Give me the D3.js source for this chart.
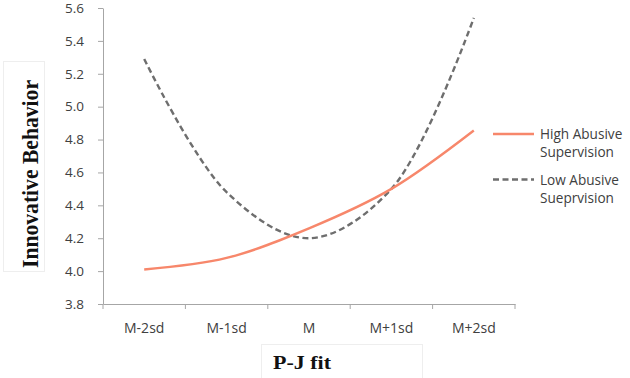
<!DOCTYPE html>
<html><head><meta charset="utf-8">
<script src="https://cdn.jsdelivr.net/npm/d3@7"></script>
<style>body{margin:0;background:#fff}svg{display:block}</style>
</head><body><svg id="c" width="630" height="378"></svg>
<script>
const categories = ["M-2sd","M-1sd","M","M+1sd","M+2sd"];
const highAbusive = [4.01, 4.08, 4.26, 4.50, 4.855];
const lowAbusive = [5.29, 4.48, 4.20, 4.50, 5.54];
const yTicks = [3.8,4.0,4.2,4.4,4.6,4.8,5.0,5.2,5.4,5.6];
const seriesNames = [["High Abusive","Supervision"],["Low Abusive","Sueprvision"]];

const svg = d3.select("#c");
const L=103, R=515, T=8, B=304;
const x = d3.scaleBand().domain(categories).range([L,R]);
const y = d3.scaleLinear().domain([3.8,5.6]).range([B,T]);
const font = "'Open Sans', 'Liberation Sans', sans-serif";
const serif = "'Liberation Serif', 'DejaVu Serif', serif";

// y axis
const ya = svg.append("g").attr("transform",`translate(${L},0)`)
  .call(d3.axisLeft(y).tickValues(yTicks).tickFormat(d3.format(".1f")).tickSize(5).tickSizeOuter(0));
ya.select(".domain").attr("stroke","#a6a6a6");
ya.selectAll(".tick line").attr("stroke","#a6a6a6");
ya.selectAll("text").attr("font-family",font).attr("font-size",13.5).attr("fill","#404040").attr("x",-19);

// x axis
const xa = svg.append("g").attr("transform",`translate(0,${B})`)
  .call(d3.axisBottom(x).tickSize(0).tickSizeOuter(0));
xa.select(".domain").attr("stroke","#a6a6a6");
xa.selectAll("text").attr("font-family",font).attr("font-size",14).attr("fill","#404040").attr("y",19).attr("dy","0.71em");
const bounds = categories.map(c=>x(c)).concat([R]);
xa.selectAll(".xt").data(bounds).enter().append("line").attr("class","xt")
  .attr("x1",d=>d).attr("x2",d=>d).attr("y1",0).attr("y2",5).attr("stroke","#a6a6a6");

const line = d3.line().x((d,i)=>x(categories[i])+x.bandwidth()/2).y(d=>y(d)).curve(d3.curveCatmullRom.alpha(0.5));
svg.append("path").datum(lowAbusive).attr("d",line).attr("fill","none")
  .attr("stroke","#6e6e6e").attr("stroke-width",2.4).attr("stroke-dasharray","6,3.5");
svg.append("path").datum(highAbusive).attr("d",line).attr("fill","none")
  .attr("stroke","#f7876b").attr("stroke-width",2.4);

// legend
const lg = svg.append("g");
const ly = [134,179.5];
lg.append("line").attr("x1",493).attr("x2",534).attr("y1",ly[0]).attr("y2",ly[0]).attr("stroke","#f7876b").attr("stroke-width",2.4);
lg.append("line").attr("x1",493).attr("x2",534).attr("y1",ly[1]).attr("y2",ly[1]).attr("stroke","#6e6e6e").attr("stroke-width",2.4).attr("stroke-dasharray","6,3.5");
seriesNames.forEach((n,i)=>{
  n.forEach((s,j)=>{
    lg.append("text").attr("x",540).attr("y",ly[i]+5+j*18).attr("font-family",font).attr("font-size",13.6)
      .attr("fill","#404040").text(s);
  });
});

// axis title boxes
svg.append("rect").attr("x",3.5).attr("y",61.5).attr("width",41).attr("height",210).attr("fill","#fff").attr("stroke","#eeeeee");
svg.append("text").attr("transform","translate(38,174) rotate(-90)").attr("text-anchor","middle")
  .attr("font-family",serif).attr("font-weight","bold").attr("font-size",23).attr("fill","#111")
  .attr("textLength",188).attr("lengthAdjust","spacingAndGlyphs").text("Innovative Behavior");
svg.append("rect").attr("x",261.5).attr("y",344.5).attr("width",161).attr("height",40).attr("fill","#fff").attr("stroke","#eeeeee");
svg.append("text").attr("x",273).attr("y",369).attr("font-family",serif).attr("font-weight","bold").attr("font-size",19.5).attr("fill","#111")
  .attr("textLength",58).attr("lengthAdjust","spacingAndGlyphs").text("P-J fit");
</script></body></html>
